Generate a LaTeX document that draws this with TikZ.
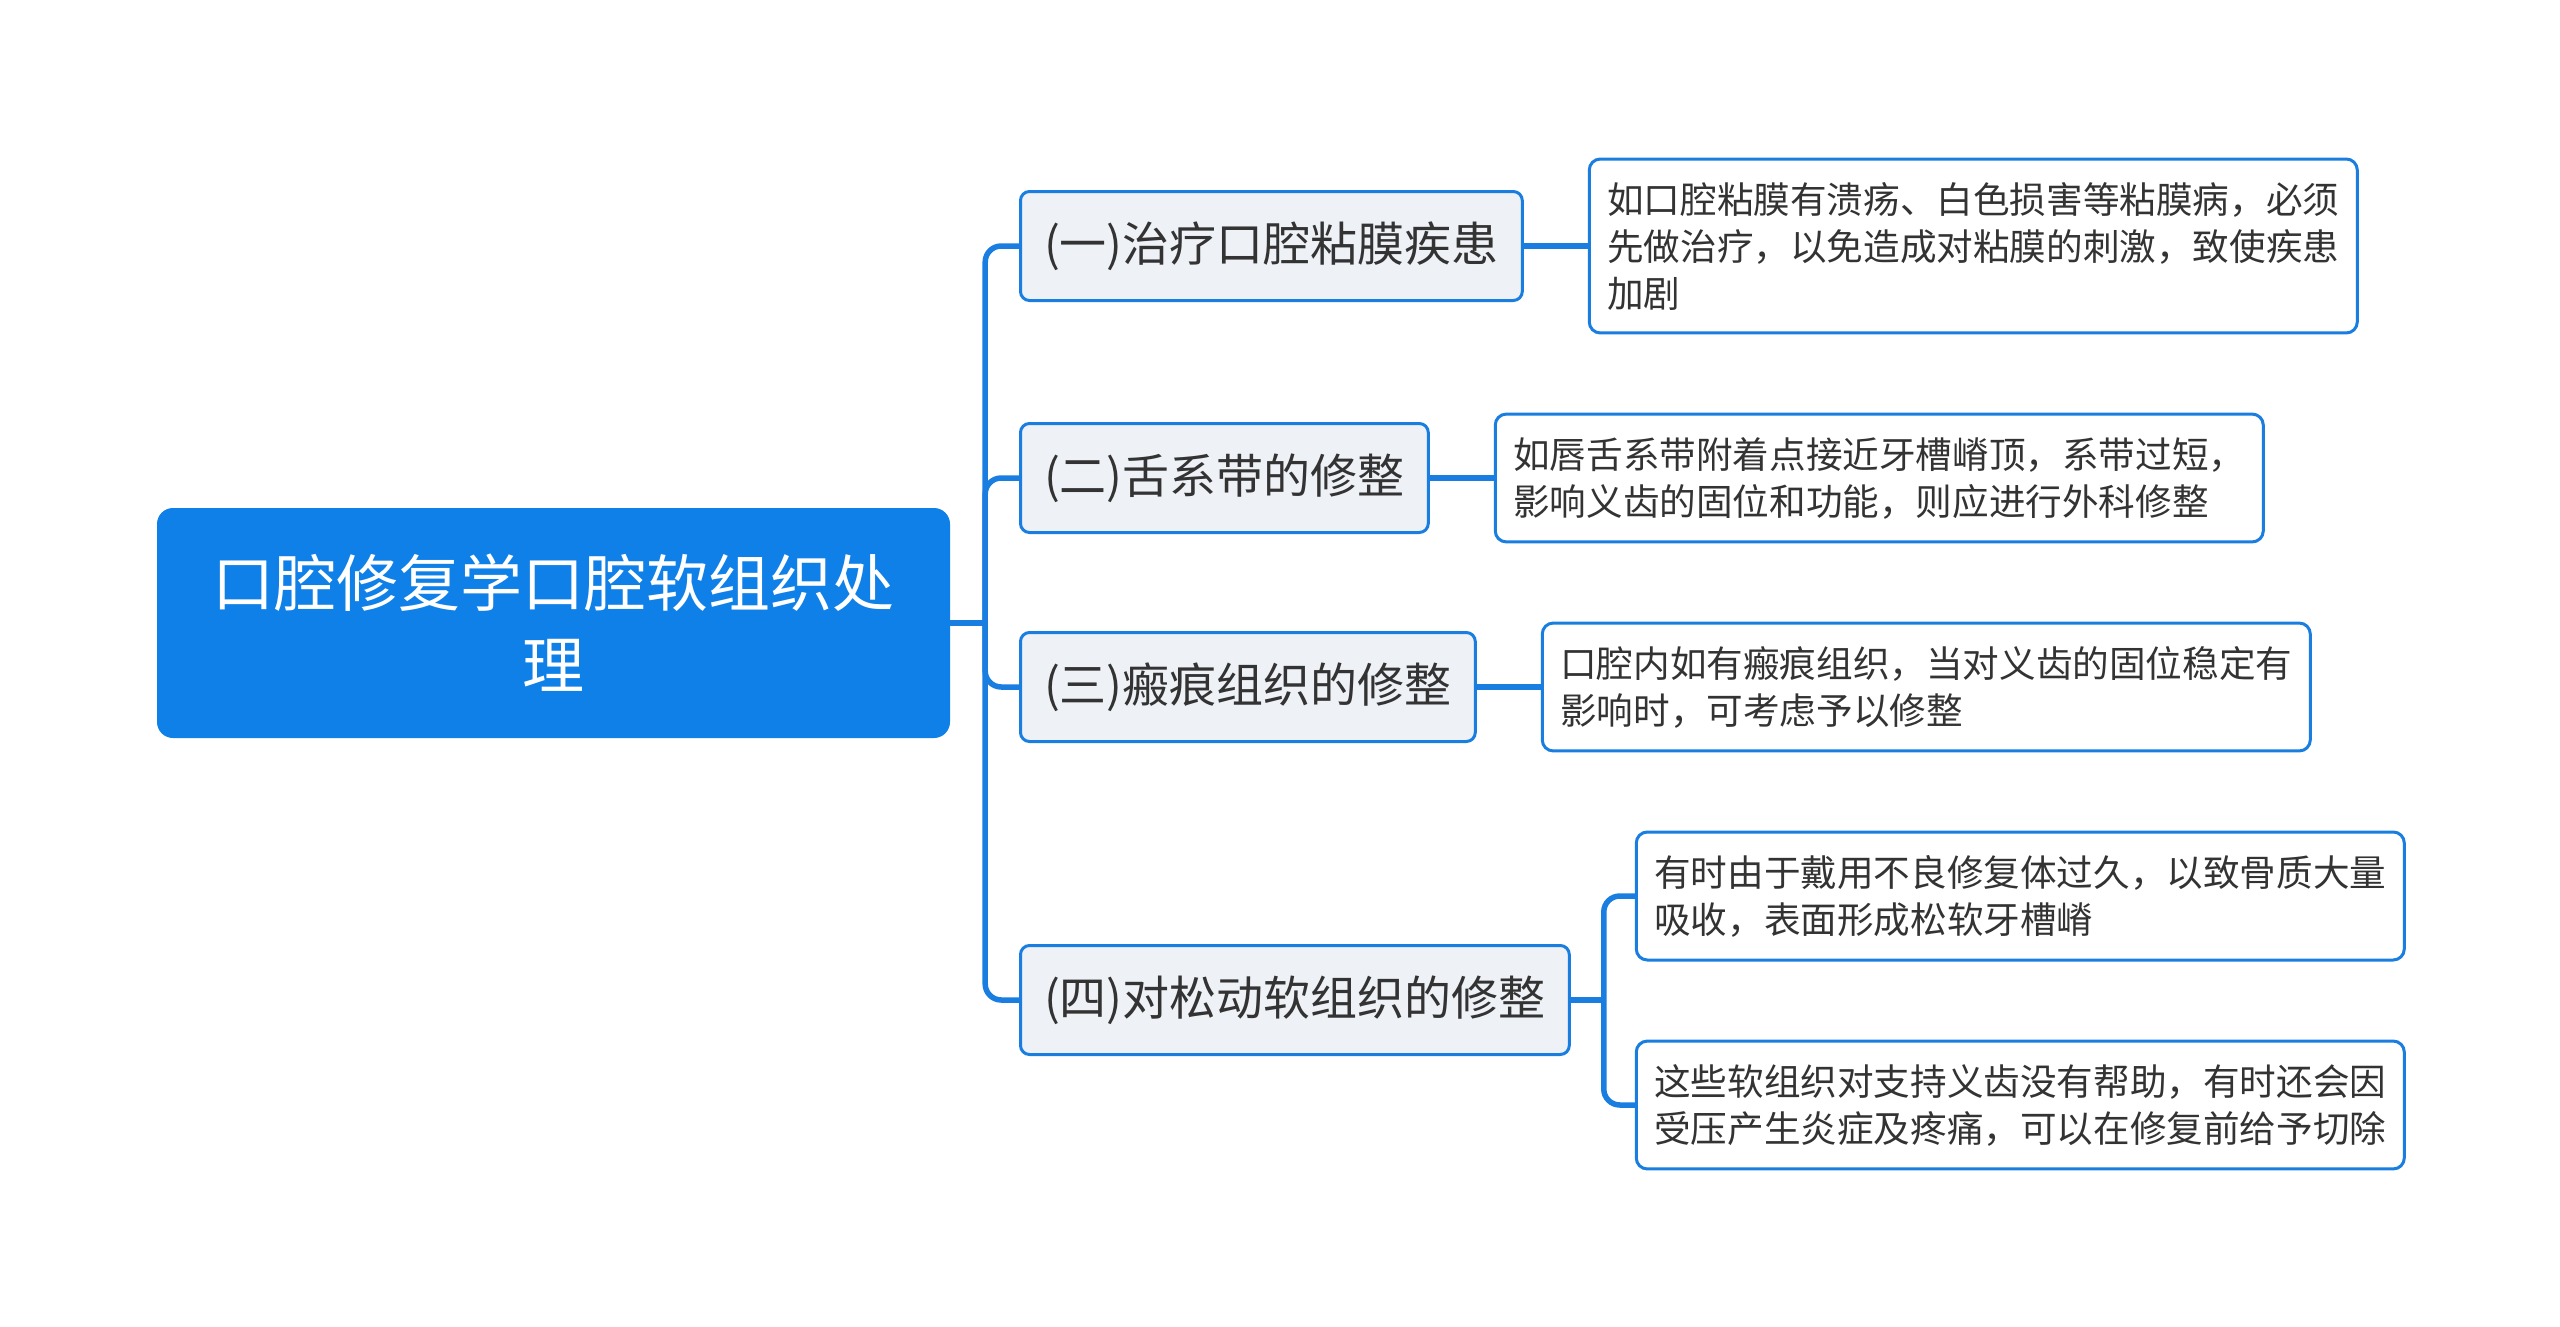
\documentclass[tikz,border=0pt]{standalone}
\usepackage{fontspec}
\setmainfont{Noto Sans CJK SC}
\usetikzlibrary{positioning}
\definecolor{mapblue}{HTML}{0F80E8}
\definecolor{edgeblue}{HTML}{1A7EE0}
\definecolor{branchfill}{HTML}{EEF2F7}
\definecolor{textgray}{HTML}{333333}
\begin{document}
\begin{tikzpicture}[
x=1pt, y=-1pt,
node distance=64pt,
rootbox/.style={fill=mapblue, rounded corners=16pt, text=white, align=center, minimum width=793pt, minimum height=230pt, font=\fontsize{62}{82}\selectfont},
branchbox/.style={draw=edgeblue, line width=3pt, fill=branchfill, rounded corners=9pt, text=textgray, minimum height=109pt, inner xsep=23.5pt, anchor=west, font=\fontsize{47}{56}\selectfont},
leafbox/.style={draw=edgeblue, line width=3pt, fill=white, rounded corners=11pt, text=textgray, align=left, text width=732pt, inner xsep=18pt, inner ysep=23pt, font=\fontsize{36.6}{47}\selectfont},
link/.style={draw=edgeblue, line width=5.5pt},
elbowlink/.style={link, rounded corners=16pt}
]
\useasboundingbox (0,0) rectangle (2560,1327);

\node[rootbox] (root) at (553.5,623)
{口腔修复学口腔软组织处\\理};

\node[branchbox] (mucosa) at (1019,246) {(一)治疗口腔粘膜疾患};
\node[branchbox] (frenum) at (1019,478) {(二)舌系带的修整};
\node[branchbox] (scar) at (1019,687) {(三)瘢痕组织的修整};
\node[branchbox] (loose) at (1019,1000) {(四)对松动软组织的修整};

\node[leafbox, right=of mucosa] (mucosanote)
{如口腔粘膜有溃疡、白色损害等粘膜病，必须\\
先做治疗，以免造成对粘膜的刺激，致使疾患\\
加剧};

\node[leafbox, right=of frenum] (frenumnote)
{如唇舌系带附着点接近牙槽嵴顶，系带过短，\\
影响义齿的固位和功能，则应进行外科修整};

\node[leafbox, right=of scar] (scarnote)
{口腔内如有瘢痕组织，当对义齿的固位稳定有\\
影响时，可考虑予以修整};

\node[leafbox, right=of loose, yshift=104pt] (loosenote1)
{有时由于戴用不良修复体过久，以致骨质大量\\
吸收，表面形成松软牙槽嵴};

\node[leafbox, right=of loose, yshift=-105pt] (loosenote2)
{这些软组织对支持义齿没有帮助，有时还会因\\
受压产生炎症及疼痛，可以在修复前给予切除};

\coordinate (trunk) at ([xshift=35pt]root.east);
\coordinate (fork) at ([xshift=33pt]loose.east);

\draw[link] (root.east) -- (trunk);
\draw[elbowlink] (trunk) |- (mucosa.west);
\draw[elbowlink] (trunk) |- (frenum.west);
\draw[elbowlink] (trunk) |- (scar.west);
\draw[elbowlink] (trunk) |- (loose.west);

\draw[link] (mucosa.east) -- (mucosanote.west);
\draw[link] (frenum.east) -- (frenumnote.west);
\draw[link] (scar.east) -- (scarnote.west);

\draw[link] (loose.east) -- (fork);
\draw[elbowlink] (fork) |- (loosenote1.west);
\draw[elbowlink] (fork) |- (loosenote2.west);

\end{tikzpicture}
\end{document}
